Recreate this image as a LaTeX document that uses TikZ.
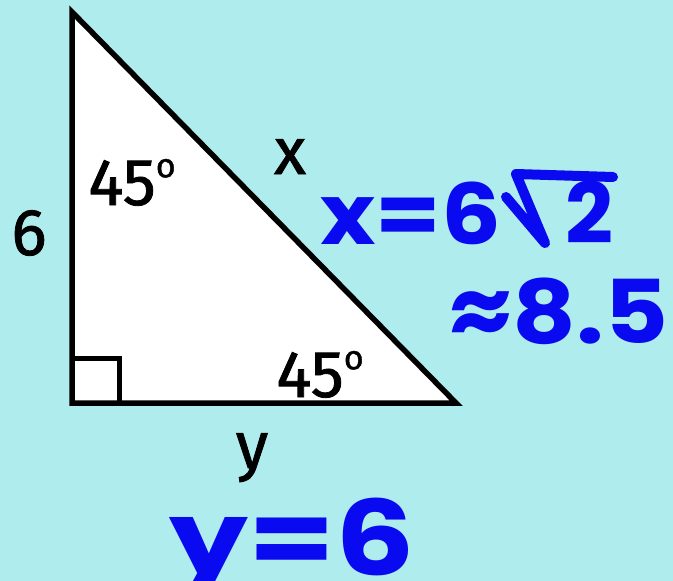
\documentclass[tikz,border=0pt]{standalone}
\usepackage{fontspec}
\setmainfont{Fira Sans}[FakeBold=1.2]
\newfontfamily\handfont{Poppins Bold}
\definecolor{bgcyan}{RGB}{175,236,237}
\definecolor{penblue}{RGB}{10,10,240}
\tikzset{
  lbl/.style={font=\fontsize{66}{70}\selectfont, text=black, inner sep=0pt, anchor=base},
  hand/.style={font=\handfont\fontsize{84}{90}\selectfont, text=penblue, inner sep=0pt, anchor=base},
  edge/.style={line width=5.5pt, line join=miter}
}
\newcommand{\degsym}{\raisebox{0.42em}{\fontsize{34}{34}\selectfont o}}
\begin{document}
\begin{tikzpicture}[x=1pt,y=-1pt]
\clip (0,0) rectangle (673,581);
\fill[bgcyan] (0,0) rectangle (673,581);
\coordinate (A) at (72,12);
\coordinate (B) at (72,403);
\coordinate (C) at (456,403);
\filldraw[edge, fill=white] (A) -- (B) -- (C) -- cycle;
\coordinate (R1) at (72,358);
\coordinate (R2) at (119,358);
\coordinate (R3) at (119,403);
\draw[line width=5pt] (R1) -- (R2) -- (R3);
\node[lbl] (six) at (29,255) {6};
\node[lbl] (ang1) at (132,205) {45\degsym};
\node[lbl] (xl) at (290,174) {x};
\node[lbl] (ang2) at (320,397) {45\degsym};
\node[lbl] (yl) at (252,468) {y};
\node[hand, xscale=1.12] (xe) at (411,244) {x=6};
\node[hand] (two) at (589,243) {2};
\coordinate (S1) at (506,197);
\coordinate (S2) at (545,243);
\coordinate (S3) at (516,174);
\coordinate (S4) at (613,177);
\draw[penblue, line width=10pt, line cap=round, line join=round] (S1) -- (S2) -- (S3) -- (S4);
\node[hand, font=\handfont\fontsize{88}{94}\selectfont, xscale=1.12] (ap) at (559,343) {≈8.5};
\node[hand, font=\handfont\fontsize{104}{110}\selectfont, xscale=1.2] (ye) at (292,575) {y=6};
\end{tikzpicture}
\end{document}
